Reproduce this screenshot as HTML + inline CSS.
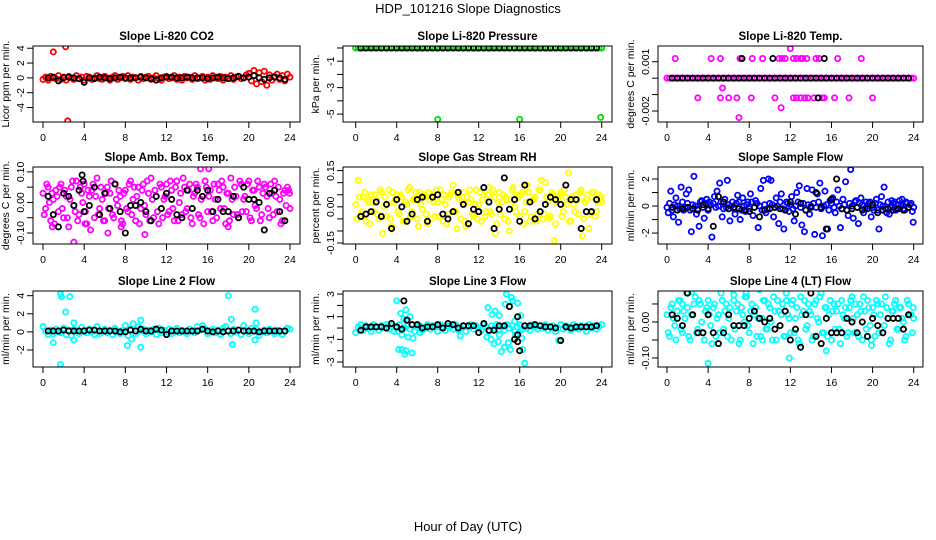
<!DOCTYPE html>
<html><head><meta charset="utf-8">
<style>
html,body{margin:0;padding:0;background:#fff;}
svg{display:block;font-family:"Liberation Sans",sans-serif;}
</style></head>
<body>
<svg id="chart" width="936" height="540" viewBox="0 0 936 540">
<text x="468" y="13" text-anchor="middle" font-size="13">HDP_101216  Slope Diagnostics</text>
<text x="468" y="531" text-anchor="middle" font-size="13">Hour of Day (UTC)</text>
</svg>
<script>
const tA = [0,0.25,0.5,0.75,1,1.25,1.5,1.75,2,2.25,2.5,2.75,3,3.25,3.5,3.75,4,4.25,4.5,4.75,5,5.25,5.5,5.75,6,6.25,6.5,6.75,7,7.25,7.5,7.75,8,8.25,8.5,8.75,9,9.25,9.5,9.75,10,10.25,10.5,10.75,11,11.25,11.5,11.75,12,12.25,12.5,12.75,13,13.25,13.5,13.75,14,14.25,14.5,14.75,15,15.25,15.5,15.75,16,16.25,16.5,16.75,17,17.25,17.5,17.75,18,18.25,18.5,18.75,19,19.25,19.5,19.75,20,20.25,20.5,20.75,21,21.25,21.5,21.75,22,22.25,22.5,22.75,23,23.25,23.5,23.75,24];
const tB = [0.12,0.37,0.62,0.87,1.12,1.37,1.62,1.87,2.12,2.37,2.62,2.87,3.12,3.37,3.62,3.87,4.12,4.37,4.62,4.87,5.12,5.37,5.62,5.87,6.12,6.37,6.62,6.87,7.12,7.37,7.62,7.87,8.12,8.37,8.62,8.87,9.12,9.37,9.62,9.87,10.12,10.37,10.62,10.87,11.12,11.37,11.62,11.87,12.12,12.37,12.62,12.87,13.12,13.37,13.62,13.87,14.12,14.37,14.62,14.87,15.12,15.37,15.62,15.87,16.12,16.37,16.62,16.87,17.12,17.37,17.62,17.87,18.12,18.37,18.62,18.87,19.12,19.37,19.62,19.87,20.12,20.37,20.62,20.87,21.12,21.37,21.62,21.87,22.12,22.37,22.62,22.87,23.12,23.37,23.62,23.87,23.95];
const tK = [0.5,1,1.5,2,2.5,3,3.5,4,4.5,5,5.5,6,6.5,7,7.5,8,8.5,9,9.5,10,10.5,11,11.5,12,12.5,13,13.5,14,14.5,15,15.5,16,16.5,17,17.5,18,18.5,19,19.5,20,20.5,21,21.5,22,22.5,23,23.5];
const xTicks = [0,4,8,12,16,20,24];

// Panel 1: CO2
const co2A = [-0.2,0.1,-0.3,0.2,0.0,-0.1,0.3,-0.2,0.1,-0.3,0.2,0.0,-0.2,0.3,-0.1,0.1,-0.3,0.2,0.1,-0.2,0.0,0.3,-0.1,-0.2,0.2,0.0,-0.3,0.1,0.3,-0.2,0.0,0.2,-0.1,0.3,-0.2,0.1,0.0,-0.3,0.2,-0.1,0.1,0.2,-0.2,0.0,0.3,-0.1,-0.3,0.1,0.2,-0.1,0.0,0.3,-0.2,0.1,-0.3,0.2,0.0,0.1,-0.2,0.3,-0.1,0.0,0.2,-0.3,0.1,-0.2,0.3,0.0,-0.1,0.2,-0.3,0.1,0.0,0.3,-0.2,0.1,0.2,-0.1,0.0,0.4,0.6,-0.4,1.0,-0.8,0.7,-0.5,0.9,-1.0,0.4,-0.3,0.2,0.5,-0.2,0.3,-0.4,0.5,0.1];
const co2OutT = [1.0,2.2,2.4];
const co2OutV = [3.5,4.2,-5.8];
const co2K = [0,0.1,-0.4,0,0.1,0,-0.1,-0.6,0,-0.1,0.1,0,-0.1,0,0.1,0,0,0,0.1,0,-0.1,-0.3,0,0.1,0.1,0,0,0.1,0,0,0,-0.1,0,0.1,0,-0.1,0,0.2,0,0.1,0.3,0,-0.2,0,0.1,0,-0.2];

// Panel 2: Pressure
const presA = [0,0,0,0,0,0,0,0,0,0,0,0,0,0,0,0,0,0,0,0,0,0,0,0,0,0,0,0,0,0,0,0,0,0,0,0,0,0,0,0,0,0,0,0,0,0,0,0,0,0,0,0,0,0,0,0,0,0,0,0,0,0,0,0,0,0,0,0,0,0,0,0,0,0,0,0,0,0,0,0,0,0,0,0,0,0,0,0,0,0,0,0,0,0,0,0,0];
const presOutT = [8.0,16.0,23.9];
const presOutV = [-5.4,-5.4,-5.25];
const presK = [0,0,0,0,0,0,0,0,0,0,0,0,0,0,0,0,0,0,0,0,0,0,0,0,0,0,0,0,0,0,0,0,0,0,0,0,0,0,0,0,0,0,0,0,0,0,0];

// Panel 3: Li-820 Temp
const tempA = [0,0,0,0,0,0,0,0,0,0,0,0,0,0,0,0,0,0,0,0,0,0,0,0,0,0,0,0,0,0,0,0,0,0,0,0,0,0,0,0,0,0,0,0,0,0,0,0,0,0,0,0,0,0,0,0,0,0,0,0,0,0,0,0,0,0,0,0,0,0,0,0,0,0,0,0,0,0,0,0,0,0,0,0,0,0,0,0,0,0,0,0,0,0,0,0,0];
const tempOutT = [0.8,4.3,5.2,7.1,8.3,9.3,10.9,11.2,11.5,12.0,12.3,12.6,13.0,13.2,13.6,14.5,14.8,16.6,18.9,3.0,5.2,6.0,6.8,8.2,10.5,12.3,12.6,13.0,13.4,13.7,14.3,15.1,15.3,16.3,17.7,20.0,5.4,11.1,7.0];
const tempOutV = [0.0012,0.0012,0.0012,0.0012,0.0012,0.0012,0.0012,0.0012,0.0012,0.0018,0.0012,0.0012,0.0012,0.0012,0.0012,0.0012,0.0012,0.0012,0.0012,-0.0012,-0.0012,-0.0012,-0.0012,-0.0012,-0.0012,-0.0012,-0.0012,-0.0012,-0.0012,-0.0012,-0.0012,-0.0012,-0.0012,-0.0012,-0.0012,-0.0012,-0.0006,-0.0018,-0.0024];
const tempK = [0,0,0,0,0,0,0,0,0,0,0,0,0,0,0,0,0,0,0,0,0,0,0,0,0,0,0,0,0,0,0,0,0,0,0,0,0,0,0,0,0,0,0,0,0,0,0];
const tempKOutT = [7.3,10.3,15.3,14.7];
const tempKOutV = [0.0012,0.0012,0.0012,-0.0012];

// Panel 4: Amb Box Temp
const ambA = [0.03,-0.02,0.05,-0.06,0.01,0.04,-0.03,0.06,-0.05,0.02,-0.08,0.05,-0.01,0.07,-0.04,0.03,0.06,-0.07,0.02,0.04,-0.05,0.08,-0.02,0.01,-0.06,0.05,0.03,-0.04,0.06,-0.01,0.02,-0.07,0.04,-0.03,0.07,0.01,-0.06,0.05,-0.02,0.06,-0.04,0.03,0.08,-0.05,0.02,-0.07,0.05,0.01,0.06,-0.03,0.04,-0.06,0.07,0.00,-0.04,0.05,-0.02,0.06,-0.07,0.03,0.05,-0.05,0.02,0.07,-0.03,0.04,-0.06,0.01,0.06,-0.02,0.05,-0.07,0.03,0.08,-0.04,0.02,-0.05,0.06,0.01,-0.03,0.07,-0.06,0.04,-0.02,0.05,-0.04,0.06,0.02,-0.05,0.03,0.07,-0.03,0.01,-0.06,0.04,0.05,-0.02];
const ambB = [-0.04,0.06,0.00,0.03,-0.07,0.02,0.05,-0.02,0.04,-0.05,0.01,0.07,-0.03,-0.06,0.05,0.00,-0.03,0.04,-0.09,0.06,0.02,-0.04,0.05,-0.06,0.03,-0.02,0.07,-0.05,0.01,0.04,-0.06,0.03,-0.02,0.06,-0.04,0.05,0.02,-0.07,0.04,-0.01,0.07,-0.06,0.01,0.04,-0.03,0.06,-0.05,0.02,-0.04,0.07,-0.02,0.05,-0.06,0.03,0.08,-0.03,0.04,-0.05,0.02,0.06,-0.04,0.01,-0.07,0.05,0.02,-0.03,0.06,-0.05,0.04,0.07,-0.02,0.03,-0.06,0.01,0.05,-0.04,0.07,-0.03,0.02,0.06,-0.05,0.04,-0.01,0.07,-0.06,0.03,0.05,-0.02,0.06,-0.04,0.02,0.05,-0.07,0.03,-0.01,0.04,0.03];
const ambOutT = [3.0,15.3,16.1,9.9,6.3,7.6,18.0,0.9,4.1];
const ambOutV = [-0.13,0.11,0.11,-0.105,-0.10,-0.08,-0.08,-0.08,-0.07];
const ambK = [0.02,-0.04,-0.08,0.03,0.02,-0.01,0.04,-0.03,-0.01,0.05,-0.04,0.03,-0.02,0.06,-0.03,-0.10,-0.01,-0.01,0.00,-0.03,-0.06,0.02,-0.02,0.03,0.01,-0.04,-0.05,0.04,-0.02,0.04,0.02,0.04,-0.03,0.01,-0.03,-0.03,0.02,-0.05,0.05,0.01,0.01,0.00,-0.09,0.03,0.04,-0.03,-0.06];
const ambKOutT = [3.8,3.9];
const ambKOutV = [0.09,0.07];

// Panel 5: Gas Stream RH
const rhA = [0.01,0.11,-0.03,0.04,-0.06,0.02,0.05,-0.02,0.03,-0.05,0.06,0.00,-0.04,0.07,-0.08,0.02,0.05,-0.03,0.04,-0.06,0.01,0.08,-0.02,0.03,-0.05,0.06,-0.01,0.04,-0.07,0.03,0.05,-0.04,0.02,0.07,-0.06,0.01,-0.03,0.05,0.09,-0.02,0.04,-0.05,0.06,-0.08,0.02,0.03,-0.04,0.07,0.01,-0.06,0.05,-0.02,0.08,-0.03,0.04,-0.07,0.06,0.02,-0.05,0.03,-0.10,0.07,0.00,0.05,-0.04,0.06,-0.02,0.09,-0.06,0.03,0.04,-0.03,0.07,-0.05,0.10,0.02,-0.04,0.05,-0.07,0.03,0.06,-0.02,0.04,0.14,-0.06,0.01,0.05,-0.03,0.07,-0.05,0.03,-0.09,0.04,0.06,-0.02,0.05,0.02];
const rhB = [-0.05,0.04,-0.02,0.06,0.03,-0.07,0.02,0.05,-0.03,0.07,-0.11,0.04,0.01,-0.05,0.06,0.03,-0.02,0.05,-0.06,0.02,0.07,-0.04,0.03,0.06,-0.08,0.01,0.05,-0.03,0.06,-0.05,0.02,0.07,-0.04,0.03,0.05,-0.07,0.04,0.06,-0.02,-0.09,0.05,0.02,-0.06,0.04,0.07,-0.03,0.01,-0.05,0.06,0.03,-0.04,0.05,-0.02,0.07,-0.11,0.02,-0.03,0.05,0.04,-0.06,0.03,0.08,-0.02,0.04,0.05,-0.07,0.02,0.06,-0.04,0.03,-0.06,0.07,0.11,-0.03,0.04,-0.05,0.06,-0.14,0.02,0.05,-0.04,0.07,0.01,-0.06,0.04,-0.02,0.03,0.06,-0.12,0.02,0.05,-0.03,0.06,-0.04,0.02,0.03,0.04];
const rhK = [-0.04,-0.03,-0.02,0.02,-0.04,0.01,-0.09,0.03,0.00,-0.06,-0.03,0.03,0.04,-0.06,0.04,0.05,-0.03,-0.05,-0.02,0.06,0.01,-0.07,-0.01,-0.02,0.08,0.02,-0.09,-0.01,0.12,-0.01,0.03,-0.06,0.09,0.02,-0.05,-0.02,0.01,0.04,0.03,0.01,0.09,0.03,0.03,-0.09,-0.02,-0.02,0.03];

// Panel 6: Sample Flow
const sfA = [-0.1,0.2,-0.3,0.1,0.0,-0.2,0.3,-0.1,0.2,-0.3,0.1,0.0,-0.2,0.3,-0.1,0.2,-0.3,0.1,0.2,-0.1,0.0,0.3,-0.2,-0.1,0.1,0.0,-0.2,0.2,0.3,-0.3,0.0,0.1,-0.2,0.3,-0.1,0.2,0.0,-0.3,0.1,-0.2,0.2,0.1,-0.1,0.0,0.3,-0.2,-0.3,0.2,0.1,-0.2,0.0,0.3,-0.1,0.2,-0.3,0.1,0.0,0.2,-0.1,0.3,-0.2,0.0,0.1,-0.3,0.2,-0.1,0.3,0.0,-0.2,0.1,-0.3,0.2,0.0,0.3,-0.1,0.2,0.1,-0.2,0.0,0.3,-0.1,0.2,-0.3,0.1,0.0,-0.2,0.3,-0.1,0.2,-0.3,0.1,0.0,-0.2,0.3,-0.1,0.2,-0.1];
const sfB = [-0.5,1.1,-0.8,0.6,-1.2,1.4,-0.3,0.9,1.2,-1.9,2.2,-0.6,-1.5,0.4,-0.9,0.5,0.3,-2.3,0.7,1.1,1.7,-0.8,0.5,1.9,-1.1,0.3,-0.6,0.8,-1.0,0.6,-0.4,0.3,0.9,-0.7,0.4,-1.6,1.3,1.9,-0.5,2.0,1.9,-0.8,0.6,-1.3,0.9,-1.7,0.3,-0.4,0.7,-1.1,1.0,1.5,-1.4,-1.9,1.3,-0.6,1.2,-2.1,0.9,1.7,-2.2,1.1,-1.7,0.4,0.6,-0.5,1.2,-1.6,0.5,1.8,-0.7,2.7,-0.9,0.4,-1.3,0.6,-0.5,0.3,0.2,-0.8,-0.3,0.5,-1.7,0.7,1.4,-0.5,-0.6,0.4,0.3,-0.2,0.4,0.5,-0.3,0.2,0.1,-0.4,-1.2];
const sfK = [-0.1,-0.3,-0.2,-0.1,-0.2,-0.3,0.1,-0.2,-1.5,0.7,0.3,-0.2,-0.1,-0.2,-0.3,-0.4,-0.1,-0.8,-0.3,-0.2,-0.1,-0.2,-0.3,0.3,-0.6,0.2,-0.3,-0.1,1.0,-0.1,-1.7,0.5,2.0,-0.2,-0.3,-0.2,-0.1,-0.3,-0.2,0.1,-0.5,-0.3,-0.2,-0.3,-0.2,-0.3,-0.1];

// Panel 7: Line 2 Flow
const l2A = [0.6,0.1,-0.3,0.2,-0.2,0.3,0.0,-0.1,0.4,-0.3,0.2,-0.4,0.3,0.1,-0.2,0.5,0.2,-0.1,0.3,0.0,-0.3,0.6,-0.2,0.1,0.3,-0.1,0.2,-0.3,0.4,0.0,-0.2,0.2,0.7,-0.4,0.3,0.9,-0.2,0.6,0.1,0.3,-0.2,0.2,0.0,0.3,-0.3,0.4,-0.1,0.2,0.0,0.3,-0.2,0.1,0.4,-0.1,0.2,0.0,-0.2,0.3,0.1,-0.1,0.6,0.2,0.7,0.3,-0.2,0.1,0.3,-0.1,0.2,-0.3,0.4,0.6,0.1,-0.2,0.3,0.0,0.2,-0.3,0.7,0.1,-0.2,0.4,0.1,0.3,-0.4,0.0,0.2,-0.1,0.3,0.1,-0.2,0.2,0.0,-0.3,0.1,0.4,0.3];
const l2OutT = [1.7,1.8,2.6,2.2,1.7,1.0,8.2,9.5,8.6,9.5,18.0,18.3,18.4,20.6,20.7,20.6,3.0,3.0];
const l2OutV = [4.2,3.9,3.9,2.2,-3.6,-1.2,-1.5,-1.7,-0.8,1.3,4.0,1.4,-1.4,2.5,1.0,-0.9,-0.9,1.0];
const l2K = [0.1,0.1,0.1,0.2,0.1,0.1,0.1,0.1,0.2,0.2,0.1,0.1,0.1,0.1,0.0,0.0,0.2,0.1,0.3,0.1,0.1,0.3,0.2,-0.3,0.1,0.1,0.1,0.1,0.1,0.1,0.3,0.1,0.0,0.1,0.0,0.1,0.1,0.2,0.1,0.1,0.1,0.0,0.1,0.1,0.1,0.1,0.1];

// Panel 8: Line 3 Flow
const l3A = [-0.4,0.1,0.3,-0.2,0.2,0.0,-0.3,0.3,0.1,-0.2,0.2,0.0,0.3,-0.1,0.2,-0.3,0.1,0.3,-0.2,0.0,0.2,-0.1,0.3,-0.3,0.1,0.2,-0.2,0.0,0.3,-0.1,0.2,0.1,-0.3,0.3,0.0,-0.2,0.2,0.1,-0.1,0.3,-0.2,0.0,0.2,-0.3,0.1,0.3,-0.1,0.2,0.0,-0.2,0.3,0.1,-0.3,0.2,0.0,0.3,-0.1,0.1,-0.2,0.3,0.0,0.2,-0.3,0.1,0.3,-0.1,0.2,0.0,-0.2,0.3,0.1,-0.1,0.2,0.0,0.3,-0.2,0.1,0.2,-0.3,0.0,0.3,-0.1,0.2,0.1,-0.2,0.3,0.0,-0.1,0.2,0.1,-0.3,0.3,0.0,0.2,-0.1,0.1,0.3];
const l3OutT = [4.0,4.4,4.7,4.9,5.3,4.5,5.1,4.2,4.5,4.9,4.8,5.5,5.6,4.1,12.9,13.3,13.6,14.0,14.6,14.7,15.2,15.3,15.8,16.1,15.5,13.2,13.5,13.9,14.2,14.5,14.9,15.1,15.6,16.3,16.5,12.8,14.0,16.1,16.2,19.8,10.2,6.3];
const l3OutV = [2.4,1.3,0.8,1.6,1.0,-0.6,-0.8,-1.9,-1.9,-2.0,-2.3,-2.2,-0.9,-0.3,1.8,1.2,1.5,1.1,2.1,3.0,2.7,2.4,2.2,1.1,0.6,-1.0,-1.4,-1.2,-2.1,-1.7,-1.3,-1.9,-0.6,-1.9,-3.1,-0.8,-0.6,-0.2,-0.9,-1.1,-0.7,-0.4];
const l3K = [-0.2,0.1,0.1,0.1,0.1,0.0,0.4,0.1,-0.1,0.7,0.3,0.3,0.0,0.1,0.1,0.3,0.0,0.4,0.3,0.0,0.2,0.2,0.2,-0.4,0.4,-0.2,-0.2,0.2,0.2,1.9,-1.0,-2.0,0.2,0.2,0.3,0.2,0.1,0.1,0.0,-1.1,0.1,0.0,0.1,0.1,0.1,0.1,0.2];
const l3KOutT = [4.7,15.8,15.8,15.8];
const l3KOutV = [2.4,-0.6,-1.2,1.0];

// Panel 9: Line 4 (LT) Flow
const l4A = [0.02,-0.04,0.05,-0.01,0.03,0.06,-0.03,0.01,0.04,-0.05,0.02,0.07,-0.02,0.05,-0.03,0.03,0.06,-0.01,0.04,-0.04,0.02,0.08,-0.02,0.05,0.01,-0.05,0.06,0.03,-0.06,0.04,0.00,0.07,-0.03,0.05,0.02,-0.04,0.09,0.01,0.06,-0.02,0.04,-0.05,0.03,0.06,-0.01,0.05,-0.04,0.02,-0.03,0.06,0.01,-0.05,0.07,0.03,-0.02,0.05,0.02,-0.04,0.06,0.00,0.08,-0.03,0.04,0.02,-0.05,0.05,0.03,-0.02,0.06,0.01,-0.04,0.04,0.07,-0.03,0.02,0.05,-0.05,0.03,0.06,-0.01,0.04,-0.04,0.05,0.02,-0.03,0.07,0.01,-0.05,0.03,0.06,-0.02,0.04,0.00,-0.04,0.05,0.02,0.01];
const l4B = [-0.03,0.04,0.01,-0.05,0.06,-0.02,0.03,0.08,-0.04,0.02,0.05,-0.03,0.06,0.00,-0.05,0.04,0.02,-0.06,0.05,0.01,-0.03,0.06,0.03,-0.04,0.04,0.09,-0.02,0.05,-0.05,0.02,0.07,-0.01,0.03,-0.06,0.04,0.01,-0.04,0.06,-0.02,0.05,0.00,0.07,-0.05,0.03,0.02,-0.04,0.06,0.01,0.05,-0.03,0.04,-0.06,0.02,0.06,-0.01,0.03,-0.05,0.05,0.01,0.07,-0.03,0.04,-0.04,0.06,0.03,-0.02,0.05,-0.06,0.02,0.04,-0.03,0.06,0.01,0.05,-0.04,0.03,0.07,-0.02,0.04,-0.05,0.02,0.06,-0.03,0.05,-0.01,0.04,-0.06,0.03,0.05,-0.02,0.04,0.01,-0.05,0.06,0.02,-0.03,0.04];
const l4OutT = [4.0,11.9,15.5,2.4,6.5,7.7,11.6,19.9,9.3,1.5];
const l4OutV = [-0.115,-0.10,-0.08,0.085,0.075,0.08,0.08,-0.065,-0.05,0.05];
const l4K = [0.02,0.01,-0.01,0.08,0.02,-0.03,-0.03,0.02,-0.03,-0.06,-0.03,0.02,-0.01,-0.01,-0.01,0.01,0.03,0.01,0.00,0.01,-0.02,-0.01,0.03,-0.05,-0.02,-0.07,0.02,0.08,-0.04,-0.06,0.01,-0.03,-0.03,-0.03,0.01,0.00,-0.03,0.00,-0.04,0.01,-0.01,-0.03,0.01,0.01,0.01,-0.02,0.02];

const NS = "http://www.w3.org/2000/svg";
const svg = document.getElementById("chart");
function mk(tag, attrs, parent) {
  const e = document.createElementNS(NS, tag);
  for (const k in attrs) e.setAttribute(k, attrs[k]);
  (parent || svg).appendChild(e);
  return e;
}

const cols = [{l:33,r:300,x0:43,x24:290},{l:343,r:612,x0:355.7,x24:601.7},{l:658,r:923,x0:667,x24:913.7}];
const rows = [{t:46,b:122},{t:167,b:244},{t:291,b:367}];

function panel(o) {
  const c = cols[o.col], rw = rows[o.row];
  const g = mk("g", {});
  
  
  const xs = v => c.x0 + (v / 24) * (c.x24 - c.x0);
  const ys = v => rw.b - (v - o.ymin) / (o.ymax - o.ymin) * (rw.b - rw.t);
  const tt = mk("text", {x:(c.l+c.r)/2, y:rw.t-6, "text-anchor":"middle", "font-size":"11.5", "font-weight":"bold"}, g);
  tt.textContent = o.title;
  
  
  const xa = mk("g", {}, g);
  
  
  mk("line", {x1:xs(0), x2:xs(24), y1:rw.b, y2:rw.b, stroke:"#000"}, xa);
  xTicks.forEach(v => {
    mk("line", {x1:xs(v), x2:xs(v), y1:rw.b, y2:rw.b+6, stroke:"#000"}, xa);
    const t = mk("text", {x:xs(v), y:rw.b+19, "text-anchor":"middle", "font-size":"10.5"}, xa);
    t.textContent = v;
    
    
  });
  const ya = mk("g", {}, g);
  
  
  const yt = o.yticks;
  mk("line", {x1:c.l, x2:c.l, y1:ys(Math.max(...yt)), y2:ys(Math.min(...yt)), stroke:"#000"}, ya);
  yt.forEach((v, i) => {
    mk("line", {x1:c.l-6, x2:c.l, y1:ys(v), y2:ys(v), stroke:"#000"}, ya);
    if (o.ylabels[i]) {
      const t = mk("text", {x:c.l-9, y:ys(v), "text-anchor":"middle", "font-size":"10.5", transform:`rotate(-90 ${c.l-9} ${ys(v)})`}, ya);
      t.textContent = o.ylabels[i];
      
      
    }
  });
  const yl = mk("text", {x:c.l-24, y:(rw.t+rw.b)/2, "text-anchor":"middle", "font-size":"10.5", transform:`rotate(-90 ${c.l-24} ${(rw.t+rw.b)/2})`}, g);
  yl.textContent = o.ylab;
  
  
  const clipId = "clip-" + o.name;
  const cp = mk("clipPath", {id:clipId}, g);
  mk("rect", {x:c.l, y:rw.t, width:c.r-c.l, height:rw.b-rw.t}, cp);
  const pg = mk("g", {"clip-path":`url(#${clipId})`}, g);
  o.series.forEach(s => {
    const sg = mk("g", {fill:"none", stroke:s.color, "stroke-width":"1.8"}, pg);
    
    
    s.v.forEach((v, i) => {
      const p = mk("circle", {cx:xs(s.t[i]), cy:ys(v), r:2.6}, sg);
      
      
    });
  });
  const bx = mk("rect", {x:c.l, y:rw.t, width:c.r-c.l, height:rw.b-rw.t, fill:"none", stroke:"#000"}, g);
  
  
}

const RED="#ff0000", GRN="#00dd00", MAG="#ff00ff", YEL="#ffff00", BLU="#0000ff", CYN="#00ffff", BLK="#000";

panel({name:"co2", col:0,row:0,title:"Slope Li-820 CO2", ylab:"Licor ppm per min.", ymin:-5.95, ymax:4.3,
  yticks:[-4,-2,0,2,4], ylabels:["-4","-2","0","2","4"],
  series:[{t:tA,v:co2A,color:RED,label:"series"},{t:co2OutT,v:co2OutV,color:RED,label:"outliers"},{t:tK,v:co2K,color:BLK,label:"hourly-series"}]});
panel({name:"pressure", col:1,row:0,title:"Slope Li-820 Pressure", ylab:"kPa per min.", ymin:-5.6, ymax:0.15,
  yticks:[0,-1,-2,-3,-4,-5], ylabels:["","-1","","-3","","-5"],
  series:[{t:tA,v:presA,color:GRN,label:"series"},{t:presOutT,v:presOutV,color:GRN,label:"outliers"},{t:tK,v:presK,color:BLK,label:"hourly-series"}]});
panel({name:"li820-temp", col:2,row:0,title:"Slope Li-820 Temp.", ylab:"degrees C per min.", ymin:-0.00267, ymax:0.00196,
  yticks:[0.001,0,-0.001,-0.002], ylabels:["0.001","","","-0.002"],
  series:[{t:tA,v:tempA,color:MAG,label:"series"},{t:tempOutT,v:tempOutV,color:MAG,label:"outliers"},{t:tK,v:tempK,color:BLK,label:"hourly-series"},{t:tempKOutT,v:tempKOutV,color:BLK,label:"hourly-outliers"}]});
panel({name:"amb-box-temp", col:0,row:1,title:"Slope Amb. Box Temp.", ylab:"degrees C per min.", ymin:-0.136, ymax:0.116,
  yticks:[0.1,0.05,0,-0.05,-0.1], ylabels:["0.10","","0.00","","-0.10"],
  series:[{t:tA,v:ambA,color:MAG,label:"series-a"},{t:tB,v:ambB,color:MAG,label:"series-b"},{t:ambOutT,v:ambOutV,color:MAG,label:"outliers"},{t:tK,v:ambK,color:BLK,label:"hourly-series"},{t:ambKOutT,v:ambKOutV,color:BLK,label:"hourly-outliers"}]});
panel({name:"gas-stream-rh", col:1,row:1,title:"Slope Gas Stream RH", ylab:"percent per min.", ymin:-0.154, ymax:0.165,
  yticks:[0.15,0.1,0.05,0,-0.05,-0.1,-0.15], ylabels:["0.15","","","0.00","","","-0.15"],
  series:[{t:tA,v:rhA,color:YEL,label:"series-a"},{t:tB,v:rhB,color:YEL,label:"series-b"},{t:tK,v:rhK,color:BLK,label:"hourly-series"}]});
panel({name:"sample-flow", col:2,row:1,title:"Slope Sample Flow", ylab:"ml/min per min.", ymin:-2.81, ymax:2.89,
  yticks:[2,1,0,-1,-2], ylabels:["2","","0","","-2"],
  series:[{t:tA,v:sfA,color:BLU,label:"series-a"},{t:tB,v:sfB,color:BLU,label:"series-b"},{t:tK,v:sfK,color:BLK,label:"hourly-series"}]});
panel({name:"line2-flow", col:0,row:2,title:"Slope Line 2 Flow", ylab:"ml/min per min.", ymin:-3.88, ymax:4.52,
  yticks:[4,2,0,-2], ylabels:["4","2","0","-2"],
  series:[{t:tA,v:l2A,color:CYN,label:"series"},{t:l2OutT,v:l2OutV,color:CYN,label:"outliers"},{t:tK,v:l2K,color:BLK,label:"hourly-series"}]});
panel({name:"line3-flow", col:1,row:2,title:"Slope Line 3 Flow", ylab:"ml/min per min.", ymin:-3.44, ymax:3.27,
  yticks:[3,2,1,0,-1,-2,-3], ylabels:["3","","1","","-1","","-3"],
  series:[{t:tA,v:l3A,color:CYN,label:"series"},{t:l3OutT,v:l3OutV,color:CYN,label:"outliers"},{t:tK,v:l3K,color:BLK,label:"hourly-series"},{t:l3KOutT,v:l3KOutV,color:BLK,label:"hourly-outliers"}]});
panel({name:"line4-flow", col:2,row:2,title:"Slope Line 4 (LT) Flow", ylab:"ml/min per min.", ymin:-0.125, ymax:0.086,
  yticks:[0.05,0,-0.05,-0.1], ylabels:["","0.00","","-0.10"],
  series:[{t:tA,v:l4A,color:CYN,label:"series-a"},{t:tB,v:l4B,color:CYN,label:"series-b"},{t:l4OutT,v:l4OutV,color:CYN,label:"outliers"},{t:tK,v:l4K,color:BLK,label:"hourly-series"}]});
</script>
</body></html>
